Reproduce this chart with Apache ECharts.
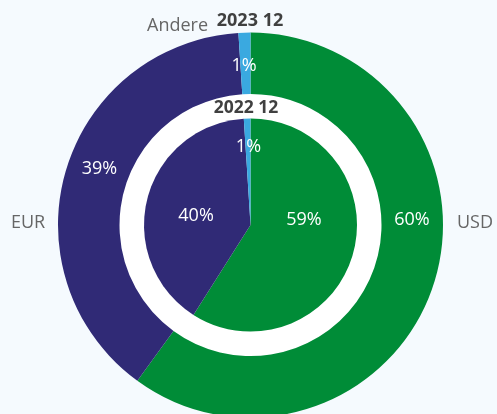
<!DOCTYPE html>
<html>
<head>
<meta charset="utf-8">
<script src="https://cdn.jsdelivr.net/npm/echarts@6/dist/echarts.min.js"></script>
<style>
html,body{margin:0;padding:0;background:#F5FAFE;}
#c{width:497px;height:414px;}
</style>
</head>
<body>
<div id="c"></div>
<script>
const categories = ['USD', 'EUR', 'Andere'];
const values2023 = [60, 39, 1];
const values2022 = [59, 40, 1];
const periodLabels = ['2023 12', '2022 12'];
const colors = ['#008C37', '#302A76', '#3AA9E0'];

const CX = 250.5, CY = 225;
const R_OUT = 192.5, R_RING = 131, R_IN = 106.5;
const FONT = '"Open Sans", "Noto Sans", sans-serif';

// label placement: angle (deg clockwise from top) and radius, per category
const outerLabelPos = [[88.2, 161.6], [290.4, 161.2], [-2.3, 159]];
const innerLabelPos = [[84.7, 53.7], [279.4, 55.2], [-1.5, 78]];
const nameLabelPos = [[475, 223, 'center'], [28, 223, 'center'], [208, 26, 'right']];

function polar(a, r) {
  const t = a * Math.PI / 180;
  return [CX + r * Math.sin(t), CY - r * Math.cos(t)];
}

const chart = echarts.init(document.getElementById('c'), null, {renderer: 'canvas'});

function mkData(vals) {
  return categories.map((n, i) => ({name: n, value: vals[i], itemStyle: {color: colors[i]}}));
}

chart.setOption({
  backgroundColor: '#F5FAFE',
  animation: false,
  series: [
    {
      type: 'pie',
      center: [CX, CY],
      radius: [0, R_RING],
      silent: true,
      z: 1,
      data: [{name: 'ring', value: 1, itemStyle: {color: '#FFFFFF'}}],
      label: {show: false},
      labelLine: {show: false},
      emphasis: {disabled: true}
    },
    {
      type: 'pie',
      center: [CX, CY],
      radius: [R_RING, R_OUT],
      startAngle: 90,
      clockwise: true,
      z: 2,
      data: mkData(values2023),
      label: {
        show: true, position: 'inside', formatter: '{c}%',
        color: '#fff', fontSize: 18, fontFamily: FONT
      },
      labelLine: {show: false},
      labelLayout: function (p) {
        const pos = polar(outerLabelPos[p.dataIndex][0], outerLabelPos[p.dataIndex][1]);
        return {x: pos[0], y: pos[1], align: 'center', verticalAlign: 'middle'};
      },
      itemStyle: {borderWidth: 0},
      emphasis: {disabled: true}
    },
    {
      type: 'pie',
      center: [CX, CY],
      radius: [0, R_IN],
      startAngle: 90,
      clockwise: true,
      z: 2,
      data: mkData(values2022),
      label: {
        show: true, position: 'inside', formatter: '{c}%',
        color: '#fff', fontSize: 18, fontFamily: FONT
      },
      labelLine: {show: false},
      labelLayout: function (p) {
        const pos = polar(innerLabelPos[p.dataIndex][0], innerLabelPos[p.dataIndex][1]);
        return {x: pos[0], y: pos[1], align: 'center', verticalAlign: 'middle'};
      },
      itemStyle: {borderWidth: 0},
      emphasis: {disabled: true}
    },
    {
      type: 'pie',
      center: [CX, CY],
      radius: [R_RING, R_OUT],
      startAngle: 90,
      silent: true,
      z: 3,
      data: categories.map((n, i) => ({name: n, value: values2023[i]})),
      itemStyle: {color: 'rgba(0,0,0,0)'},
      label: {
        show: true, position: 'inside', formatter: '{b}',
        color: '#666666', fontSize: 18, fontFamily: FONT
      },
      labelLine: {show: false},
      labelLayout: function (p) {
        const q = nameLabelPos[p.dataIndex];
        return {x: q[0], y: q[1], align: q[2], verticalAlign: 'middle'};
      },
      emphasis: {disabled: true}
    }
  ],
  graphic: [
    {type: 'text', x: 250, y: 21, z: 10, style: {text: periodLabels[0], font: 'bold 18px ' + FONT, fill: '#404040', align: 'center', verticalAlign: 'middle'}},
    {type: 'text', x: 246, y: 108, z: 10, style: {text: periodLabels[1], font: 'bold 17.5px ' + FONT, fill: '#404040', align: 'center', verticalAlign: 'middle'}}
  ]
});
</script>
</body>
</html>
